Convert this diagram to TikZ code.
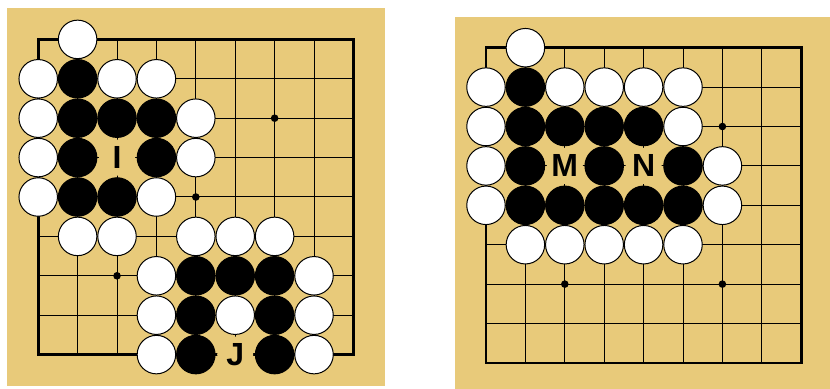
\documentclass[tikz,border=0pt]{standalone}
\usepackage{fontspec}
\setmainfont{Liberation Sans}
\usepackage{xcolor}
\usepackage{tikz}
\usetikzlibrary{positioning}

\definecolor{board}{RGB}{232,202,122}

\begin{document}
\begin{tikzpicture}[
  x=39.4pt, y=-39.4pt,
  grid/.style={
    line width=1pt,
    black
  },
  edge/.style={
    line width=2.7pt,
    black
  },
  wstone/.style={
    circle,
    draw=black,
    line width=1pt,
    fill=white,
    inner sep=0pt,
    minimum size=38.5pt
  },
  bstone/.style={
    circle,
    draw=black,
    line width=1pt,
    fill=black,
    inner sep=0pt,
    minimum size=38.5pt
  },
  eyelabel/.style={
    circle,
    fill=board,
    inner sep=0pt,
    minimum size=36pt,
    font=\fontsize{32}{32}\selectfont\bfseries
  },
  hoshi/.style={
    circle,
    fill=black,
    inner sep=0pt,
    minimum size=7.6pt
  }
]

\clip (0,0) rectangle (21.066,9.873);
\fill[white] (0,0) rectangle (21.066,9.873);

% =========================================================
% Left board: eyes I and J
% =========================================================
\begin{scope}[shift={(0.97,1.0)}]
  \fill[board] (-0.8,-0.8) rectangle (8.8,8.8);
  \foreach \i in {1,...,7} {
    \draw[grid] (\i,0) -- (\i,8);
    \draw[grid] (0,\i) -- (8,\i);
  }
  \draw[edge] (0,0) rectangle (8,8);
  \foreach \c/\r in {2/2,6/2,4/4,2/6,6/6}
    \node[hoshi] (lh-\c-\r) at (\c,\r) {};

  % white stones
  \foreach \c/\r in {1/0, 0/1,2/1,3/1, 0/2,4/2, 0/3,4/3, 0/4,3/4,
                     1/5,2/5,4/5,5/5,6/5, 3/6,7/6, 3/7,5/7,7/7, 3/8,7/8}
    \node[wstone] (lw-\c-\r) at (\c,\r) {};

  % black stones
  \foreach \c/\r in {1/1, 1/2,2/2,3/2, 1/3,3/3, 1/4,2/4,
                     4/6,5/6,6/6, 4/7,6/7, 4/8,6/8}
    \node[bstone] (lb-\c-\r) at (\c,\r) {};

  \node[eyelabel] (eyeI) at (2,3) {I};
  \node[eyelabel] (eyeJ) at (5,8) {J};
\end{scope}

% =========================================================
% Right board: eyes M and N
% =========================================================
\begin{scope}[shift={(12.335,1.211)}]
  \fill[board] (-0.79,-0.79) rectangle (8.8,8.8);
  \foreach \i in {1,...,7} {
    \draw[grid] (\i,0) -- (\i,8);
    \draw[grid] (0,\i) -- (8,\i);
  }
  \draw[edge] (0,0) rectangle (8,8);
  \foreach \c/\r in {2/2,6/2,4/4,2/6,6/6}
    \node[hoshi] (rh-\c-\r) at (\c,\r) {};

  % white stones
  \foreach \c/\r in {1/0, 0/1,2/1,3/1,4/1,5/1, 0/2,5/2, 0/3,6/3, 0/4,6/4,
                     1/5,2/5,3/5,4/5,5/5}
    \node[wstone] (rw-\c-\r) at (\c,\r) {};

  % black stones
  \foreach \c/\r in {1/1, 1/2,2/2,3/2,4/2, 1/3,3/3,5/3,
                     1/4,2/4,3/4,4/4,5/4}
    \node[bstone] (rb-\c-\r) at (\c,\r) {};

  \node[eyelabel] (eyeM) at (2,3) {M};
  \node[eyelabel] (eyeN) at (4,3) {N};
\end{scope}

\end{tikzpicture}
\end{document}
